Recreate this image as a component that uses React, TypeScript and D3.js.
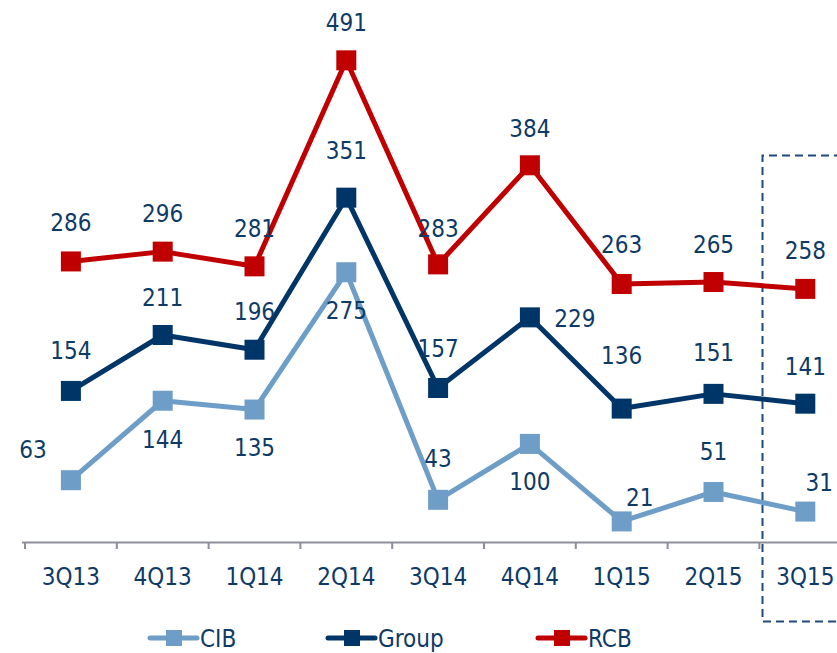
import React from "react";
import * as d3 from "d3";

const categories = ["3Q13", "4Q13", "1Q14", "2Q14", "3Q14", "4Q14", "1Q15", "2Q15", "3Q15"];
const cibValues = [63, 144, 135, 275, 43, 100, 21, 51, 31];
const groupValues = [154, 211, 196, 351, 157, 229, 136, 151, 141];
const rcbValues = [286, 296, 281, 491, 283, 384, 263, 265, 258];

// label placement (dx, dy of label centre relative to the point)
const cibLabelPos: [number, number][] = [[-38, -31], [0, 39], [0, 38], [0, 38], [0, -41], [0, 38], [18, -24], [0, -40], [14, -29]];
const groupLabelPos: [number, number][] = [[0, -40], [0, -38], [0, -38], [0, -47], [0, -39], [45, 1], [0, -53], [0, -41], [0, -37]];
const rcbLabelPos: [number, number][] = [[0, -39], [0, -38], [0, -38], [0, -38], [0, -36], [0, -37], [0, -39], [0, -38], [0, -38]];

const series = [
  { name: "CIB", values: cibValues, color: "#6e9ec7", labels: cibLabelPos },
  { name: "Group", values: groupValues, color: "#003567", labels: groupLabelPos },
  { name: "RCB", values: rcbValues, color: "#c00000", labels: rcbLabelPos },
];

const W = 837;
const H = 653;
const FONT = "'DejaVu Sans Condensed', 'DejaVu Sans', sans-serif";
const TEXT = "#0e3a66";

export default function App() {
  const x = d3.scaleBand<string>().domain(categories).range([25, 851.2]).padding(0);
  const y = d3.scaleLinear().domain([0, 500]).range([542, 51.5]);
  const cx = (c: string) => (x(c) as number) + x.bandwidth() / 2;
  const line = d3
    .line<number>()
    .x((_, i) => cx(categories[i]))
    .y((v) => y(v));
  const ticks = d3.range(categories.length + 1).map((i) => 25 + x.bandwidth() * i);
  const drawOrder = [series[0], series[1], series[2]];
  const legendX = [150, 328, 538];

  return (
    <svg width={W} height={H} style={{ position: "absolute", left: 0, top: 0, background: "#fff" }}>
      {/* axis */}
      <line x1={22} x2={W} y1={542.5} y2={542.5} stroke="#8d8d9b" strokeWidth={2} />
      {ticks.map((t, i) => (
        <line key={i} x1={t} x2={t} y1={542} y2={549} stroke="#8d8d9b" strokeWidth={2} />
      ))}
      {categories.map((c) => (
        <text key={c} x={cx(c)} y={585} textAnchor="middle" fontFamily={FONT} fontSize={24} fill={TEXT}>
          {c}
        </text>
      ))}
      {/* dashed highlight box */}
      <path d={`M ${W + 5} 155.5 H 762.5 V 621.5 H ${W + 5}`} fill="none" stroke="#1f4a7a" strokeWidth={2} strokeDasharray="8 5" />
      {drawOrder.map((s) => (
        <g key={s.name}>
          <path d={line(s.values) || ""} fill="none" stroke={s.color} strokeWidth={5} strokeLinejoin="round" />
          {s.values.map((v, i) => (
            <rect key={i} x={cx(categories[i]) - 10} y={y(v) - 10} width={20} height={20} fill={s.color} />
          ))}
        </g>
      ))}
      {series.map((s) =>
        s.values.map((v, i) => (
          <text
            key={s.name + i}
            x={cx(categories[i]) + s.labels[i][0]}
            y={y(v) + s.labels[i][1] + 8.5}
            textAnchor="middle"
            fontFamily={FONT}
            fontSize={24}
            fill={TEXT}
          >
            {v}
          </text>
        ))
      )}
      {/* legend */}
      {series.map((s, i) => (
        <g key={s.name} transform={`translate(${legendX[i]},638)`}>
          <line x1={0} x2={47} y1={0} y2={0} stroke={s.color} strokeWidth={5} strokeLinecap="round" />
          <rect x={16} y={-8} width={16} height={16} fill={s.color} />
          <text x={50} y={8.5} fontFamily={FONT} fontSize={24} fill={TEXT}>
            {s.name}
          </text>
        </g>
      ))}
    </svg>
  );
}
